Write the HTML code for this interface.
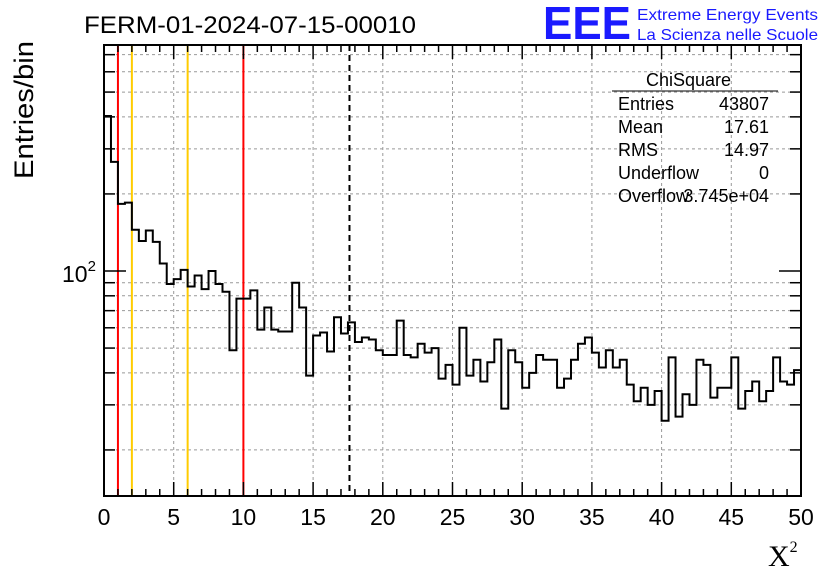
<!DOCTYPE html>
<html><head><meta charset="utf-8"><style>
body{margin:0;background:#fff;width:836px;height:572px;overflow:hidden;font-family:"Liberation Sans",sans-serif}
svg{display:block}
</style></head><body>
<svg id="c" width="836" height="572">
<text x="84" y="33" font-size="24" textLength="332" lengthAdjust="spacingAndGlyphs">FERM-01-2024-07-15-00010</text>
<text x="543" y="39" font-size="46" font-weight="bold" fill="#1a1aff" textLength="88" lengthAdjust="spacingAndGlyphs">EEE</text>
<text x="637" y="20" font-size="16" fill="#1a1aff" textLength="181" lengthAdjust="spacingAndGlyphs">Extreme Energy Events</text>
<text x="637" y="40" font-size="16" fill="#1a1aff" textLength="181" lengthAdjust="spacingAndGlyphs">La Scienza nelle Scuole</text>
<text transform="translate(33,179) rotate(-90)" font-size="27" textLength="138" lengthAdjust="spacingAndGlyphs">Entries/bin</text>
<text x="768" y="566" font-size="30" font-family="Liberation Serif,serif">X<tspan font-size="16" dy="-14">2</tspan></text>
<g id="grid"></g><g id="marks"></g><g id="axes"></g>
<g font-size="18">
<text x="646" y="86">ChiSquare</text>
<line x1="612" y1="91" x2="778" y2="91" stroke="#000"/>
<text x="618" y="110">Entries</text><text x="769" y="110" text-anchor="end">43807</text>
<text x="618" y="133">Mean</text><text x="769" y="133" text-anchor="end">17.61</text>
<text x="618" y="156">RMS</text><text x="769" y="156" text-anchor="end">14.97</text>
<text x="618" y="179">Underflow</text><text x="769" y="179" text-anchor="end">0</text>
<text x="618" y="202">Overflow</text><text x="769" y="202" text-anchor="end">3.745e+04</text>
</g>
</svg>
<script>
const counts=[403,267,183,185,145,131,144,130,107,89,93,101,87,96,85,100,89,83,49,78,78,84,59,72,59,58,58,90,72,39,56,57.5,48.5,66,57,63,52.8,55,54,49,47,47,64,47,46,52,48,50,38,43,36,60,39,45,37,44,54,29,49,44,35,40,47,45,45,35,38,45,52,55,48,42,49,42,45,36,31,35,30,34,26,46,27,33,30,45,43,32,35,35,46,29,34,37,31,34,46,37,36,41];
const binWidth=0.5;
const xTicks=[0,5,10,15,20,25,30,35,40,45,50];
const yGrid=[20,30,40,50,60,70,80,90,200,300,400,500,600,700];
const redLines=[1,10];
const yellowLines=[2,6];
const meanValue=17.61;
const L=104,R=801,T=45,B=496;
const X=v=>L+(v-0)/50*(R-L);
const Y=v=>271-256*Math.log10(v/100);
const NS="http://www.w3.org/2000/svg";
function mk(tag,attrs,parent){const e=document.createElementNS(NS,tag);for(const k in attrs)e.setAttribute(k,attrs[k]);document.getElementById(parent).appendChild(e);return e;}
for(const t of xTicks){if(t===0||t===50)continue;const g=mk('line',{x1:X(t),x2:X(t),y1:T,y2:B,stroke:'#999','stroke-dasharray':'3,3'},'grid');

}
for(const v of yGrid){const g=mk('line',{x1:L,x2:R,y1:Y(v),y2:Y(v),stroke:'#999','stroke-dasharray':'3,3'},'grid');

}
for(const v of redLines){const l=mk('line',{x1:X(v),x2:X(v),y1:T,y2:B,stroke:'#f00','stroke-width':2},'marks');

}
for(const v of yellowLines){const l=mk('line',{x1:X(v),x2:X(v),y1:T,y2:B,stroke:'#fc0','stroke-width':2},'marks');

}
let d='M'+L+','+B;
counts.forEach((c,i)=>{const y=Math.min(Y(c),B);d+=' L'+X(i*binWidth)+','+y+' L'+X((i+1)*binWidth)+','+y;});
d+=' L'+R+','+B;
const h=mk('path',{d:d,fill:'none',stroke:'#000','stroke-width':2},'marks');


const m=mk('line',{x1:X(meanValue),x2:X(meanValue),y1:T,y2:B,stroke:'#000','stroke-width':2,'stroke-dasharray':'6,4'},'marks');


const f=mk('rect',{x:L,y:T,width:R-L,height:B-T,fill:'none',stroke:'#000','stroke-width':2},'axes');


for(let t=0;t<=50;t++){const len=t%5===0?14:7;
mk('line',{x1:X(t),x2:X(t),y1:B,y2:B-len,stroke:'#000','stroke-width':1.5},'axes');
mk('line',{x1:X(t),x2:X(t),y1:T,y2:T+len,stroke:'#000','stroke-width':1.5},'axes');}
for(const t of xTicks){const tx=mk('text',{x:X(t),y:B+29,'font-size':23,'text-anchor':'middle'},'axes');tx.textContent=t;

}
for(const v of yGrid.concat([100])){const len=v===100?22:11;
mk('line',{x1:L,x2:L+len,y1:Y(v),y2:Y(v),stroke:'#000','stroke-width':1.5},'axes');
mk('line',{x1:R,x2:R-len,y1:Y(v),y2:Y(v),stroke:'#000','stroke-width':1.5},'axes');}
const yl=mk('text',{x:62,y:Y(100)+11,'font-size':23},'axes');yl.innerHTML='10<tspan font-size="15" dy="-11">2</tspan>';


</script>
</body></html>
